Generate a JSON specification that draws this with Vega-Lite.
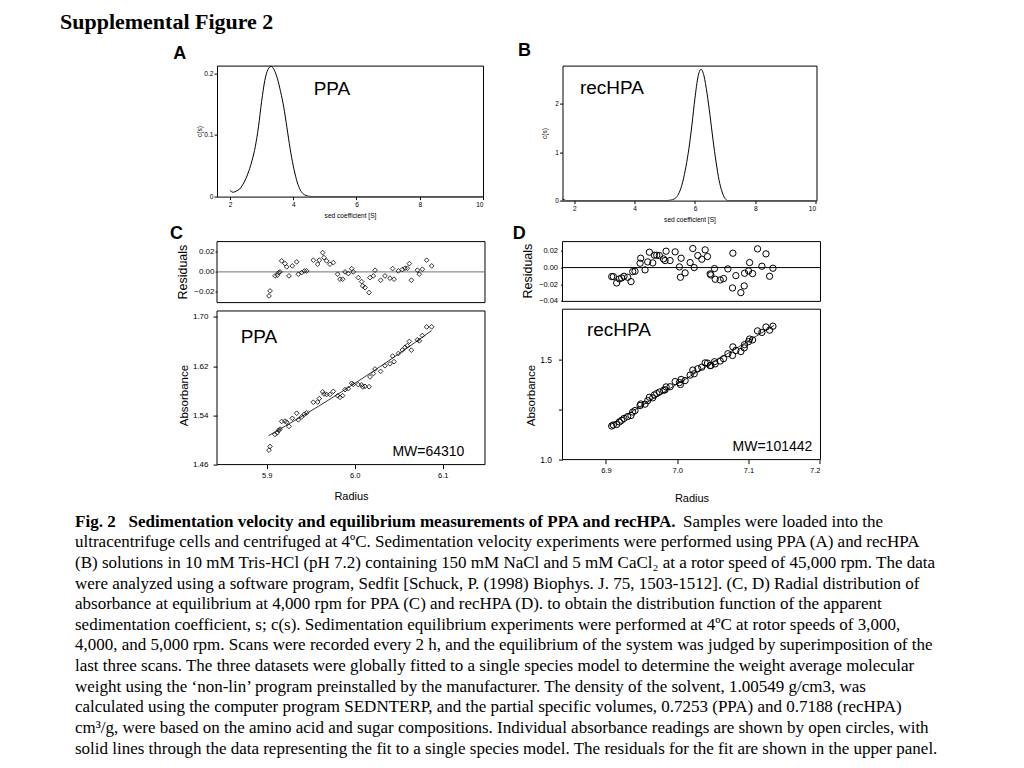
{
  "$schema": "https://vega.github.io/schema/vega-lite/v6.json",
  "background": "white",
  "padding": {"left": 60, "top": 10.6, "right": 5, "bottom": 5},
  "title": {"text": "Supplemental Figure 2", "anchor": "start", "frame": "group", "dx": -157, "offset": -9.5, "baseline": "alphabetic", "font": "Liberation Serif", "fontSize": 22, "fontWeight": "bold", "color": "black"},
  "config": {
    "view": {"stroke": null},
    "axis": {"grid": false, "domain": false, "tickColor": "black", "labelColor": "black", "titleColor": "black", "labelFont": "Liberation Sans", "titleFont": "Liberation Sans", "titleFontWeight": "normal", "tickWidth": 1}
  },
  "datasets": {
    "frame": [{"id": 1}],
    "ppa_cs": [{"s":2.0,"c":0.010},{"s":2.1,"c":0.007},{"s":2.2,"c":0.009},{"s":2.3,"c":0.012},{"s":2.4,"c":0.019},{"s":2.5,"c":0.029},{"s":2.6,"c":0.042},{"s":2.7,"c":0.059},{"s":2.8,"c":0.081},{"s":2.9,"c":0.113},{"s":3.0,"c":0.154},{"s":3.1,"c":0.188},{"s":3.2,"c":0.206},{"s":3.3,"c":0.211},{"s":3.4,"c":0.205},{"s":3.5,"c":0.191},{"s":3.6,"c":0.170},{"s":3.7,"c":0.145},{"s":3.8,"c":0.112},{"s":3.9,"c":0.078},{"s":4.0,"c":0.050},{"s":4.1,"c":0.028},{"s":4.2,"c":0.013},{"s":4.3,"c":0.005},{"s":4.4,"c":0.002},{"s":4.5,"c":0.0005},{"s":4.6,"c":0},{"s":5,"c":0},{"s":6,"c":0},{"s":7,"c":0},{"s":8,"c":0},{"s":9,"c":0},{"s":10,"c":0}],
    "rec_cs": [{"s":1.47,"c":0.13},{"s":1.55,"c":0.07},{"s":1.65,"c":0.02},{"s":1.75,"c":0},{"s":2,"c":0},{"s":3,"c":0},{"s":4,"c":0},{"s":5,"c":0},{"s":5.2,"c":0.01},{"s":5.3,"c":0.03},{"s":5.4,"c":0.08},{"s":5.5,"c":0.2},{"s":5.6,"c":0.4},{"s":5.7,"c":0.7},{"s":5.8,"c":1.08},{"s":5.9,"c":1.57},{"s":6.0,"c":2.12},{"s":6.1,"c":2.56},{"s":6.2,"c":2.72},{"s":6.3,"c":2.58},{"s":6.4,"c":2.22},{"s":6.5,"c":1.76},{"s":6.6,"c":1.25},{"s":6.7,"c":0.8},{"s":6.8,"c":0.42},{"s":6.9,"c":0.18},{"s":7.0,"c":0.04},{"s":7.1,"c":0},{"s":8,"c":0},{"s":9,"c":0},{"s":10,"c":0}],
    "annA": [{"s": 5.225, "c": 0.1742, "label": "PPA"}],
    "annB": [{"s": 3.249, "c": 2.329, "label": "recHPA"}],
    "cdata": [
      {"r":5.9026,"res":-0.024,"abs":1.4835},{"r":5.9038,"res":-0.019,"abs":1.4895},{"r":5.9094,"res":-0.004,"abs":1.509},{"r":5.9121,"res":-0.0033,"abs":1.5119},{"r":5.9136,"res":-0.0007,"abs":1.5157},{"r":5.9151,"res":0,"abs":1.5177},{"r":5.917,"res":0.011,"abs":1.5302},{"r":5.9208,"res":0.0083,"abs":1.5307},{"r":5.9227,"res":0.005,"abs":1.529},{"r":5.9253,"res":-0.004,"abs":1.5221},{"r":5.9291,"res":0.006,"abs":1.5353},{"r":5.9341,"res":0.010,"abs":1.5435},{"r":5.9359,"res":-0.0023,"abs":1.5328},{"r":5.9397,"res":-0.0007,"abs":1.5376},{"r":5.9428,"res":0.001,"abs":1.5419},{"r":5.9454,"res":0.001,"abs":1.5442},{"r":5.953,"res":0.0117,"abs":1.5614},{"r":5.9579,"res":0.0077,"abs":1.5617},{"r":5.9598,"res":0.0117,"abs":1.5674},{"r":5.9636,"res":0.0193,"abs":1.5783},{"r":5.9651,"res":0.0143,"abs":1.5747},{"r":5.9681,"res":0.011,"abs":1.574},{"r":5.9719,"res":0.0077,"abs":1.5741},{"r":5.9757,"res":0.0093,"abs":1.5791},{"r":5.9806,"res":-0.0023,"abs":1.5719},{"r":5.9833,"res":-0.0073,"abs":1.5694},{"r":5.9863,"res":-0.0073,"abs":1.5721},{"r":5.989,"res":0,"abs":1.5819},{"r":5.9928,"res":-0.0017,"abs":1.5836},{"r":5.9966,"res":0.0033,"abs":1.5922},{"r":5.9984,"res":0,"abs":1.5905},{"r":6.0041,"res":-0.0057,"abs":1.5901},{"r":6.0079,"res":-0.0097,"abs":1.5897},{"r":6.0091,"res":-0.014,"abs":1.5865},{"r":6.0117,"res":-0.0157,"abs":1.5872},{"r":6.0163,"res":-0.0207,"abs":1.5866},{"r":6.0174,"res":-0.0057,"abs":1.6026},{"r":6.0212,"res":-0.004,"abs":1.608},{"r":6.0231,"res":0.0017,"abs":1.6155},{"r":6.0295,"res":-0.0083,"abs":1.6116},{"r":6.0344,"res":-0.004,"abs":1.6207},{"r":6.0401,"res":-0.0063,"abs":1.6239},{"r":6.0431,"res":0.0033,"abs":1.6365},{"r":6.0447,"res":-0.0073,"abs":1.6274},{"r":6.0496,"res":0.001,"abs":1.6406},{"r":6.0541,"res":0.0023,"abs":1.6463},{"r":6.0572,"res":0.0037,"abs":1.6508},{"r":6.0598,"res":0.0037,"abs":1.6534},{"r":6.0621,"res":0.0083,"abs":1.6603},{"r":6.0644,"res":-0.0083,"abs":1.6461},{"r":6.0712,"res":0.0017,"abs":1.663},{"r":6.0734,"res":-0.0023,"abs":1.6612},{"r":6.0769,"res":0.0027,"abs":1.6698},{"r":6.0818,"res":0.0117,"abs":1.6838},{"r":6.0875,"res":0.006,"abs":1.684}
    ],
    "cfit": [{"r":5.902,"a":1.507},{"r":5.94,"a":1.5385},{"r":5.98,"a":1.5737},{"r":6.02,"a":1.6108},{"r":6.06,"a":1.6499},{"r":6.0875,"a":1.678}],
    "annC": [{"r": 5.8912, "a": 1.6673, "label": "PPA", "kind": "name"}, {"r": 6.0838, "a": 1.4803, "label": "MW=64310", "kind": "mw"}],
    "ddata": [
      {"r":6.908,"res":-0.0108,"abs":1.1673},{"r":6.9103,"res":-0.0108,"abs":1.1723},{"r":6.915,"res":-0.0184,"abs":1.1748},{"r":6.9187,"res":-0.0136,"abs":1.1875},{"r":6.922,"res":-0.0124,"abs":1.1958},{"r":6.9253,"res":-0.0104,"abs":1.205},{"r":6.9304,"res":-0.0116,"abs":1.2147},{"r":6.9351,"res":-0.0168,"abs":1.2197},{"r":6.9375,"res":-0.0048,"abs":1.2368},{"r":6.9407,"res":-0.0044,"abs":1.2441},{"r":6.9478,"res":0.0052,"abs":1.269},{"r":6.9487,"res":0.0112,"abs":1.2769},{"r":6.9548,"res":-0.0028,"abs":1.2761},{"r":6.9585,"res":0.0068,"abs":1.2936},{"r":6.9609,"res":0.0184,"abs":1.3104},{"r":6.9656,"res":0.0056,"abs":1.3077},{"r":6.9679,"res":0.0148,"abs":1.3219},{"r":6.9712,"res":0.0148,"abs":1.329},{"r":6.9749,"res":0.0144,"abs":1.3365},{"r":6.9806,"res":0.0104,"abs":1.3448},{"r":6.9829,"res":0.0084,"abs":1.3478},{"r":6.9843,"res":0.0196,"abs":1.362},{"r":6.9899,"res":0.0084,"abs":1.3628},{"r":6.997,"res":0.0188,"abs":1.3885},{"r":7.003,"res":0.0008,"abs":1.3834},{"r":7.0044,"res":-0.0116,"abs":1.3741},{"r":7.0054,"res":0.0112,"abs":1.399},{"r":7.011,"res":-0.0064,"abs":1.3935},{"r":7.018,"res":0.006,"abs":1.4209},{"r":7.0218,"res":0.0228,"abs":1.4459},{"r":7.0237,"res":0.0,"abs":1.4272},{"r":7.0288,"res":0.0144,"abs":1.4526},{"r":7.0344,"res":0.01,"abs":1.4602},{"r":7.0391,"res":0.0212,"abs":1.4816},{"r":7.0424,"res":0.0132,"abs":1.4807},{"r":7.0461,"res":-0.0076,"abs":1.4678},{"r":7.0471,"res":-0.0088,"abs":1.4688},{"r":7.0522,"res":-0.0012,"abs":1.4874},{"r":7.0532,"res":-0.014,"abs":1.4767},{"r":7.0602,"res":-0.0148,"abs":1.491},{"r":7.0649,"res":-0.0132,"abs":1.5027},{"r":7.071,"res":-0.0016,"abs":1.5274},{"r":7.0775,"res":-0.0244,"abs":1.5186},{"r":7.078,"res":0.0172,"abs":1.5613},{"r":7.0822,"res":-0.0096,"abs":1.5436},{"r":7.0892,"res":-0.03,"abs":1.5382},{"r":7.0939,"res":-0.022,"abs":1.5564},{"r":7.0944,"res":-0.0068,"abs":1.5726},{"r":7.1,"res":-0.004,"abs":1.5875},{"r":7.1014,"res":0.006,"abs":1.6005},{"r":7.1056,"res":-0.0072,"abs":1.5963},{"r":7.1126,"res":0.0224,"abs":1.641},{"r":7.1187,"res":0.0016,"abs":1.6333},{"r":7.1244,"res":0.0164,"abs":1.6604},{"r":7.1295,"res":-0.0104,"abs":1.6446},{"r":7.1342,"res":-0.0008,"abs":1.6643}
    ],
    "dfit": [{"r":6.9047,"a":1.171},{"r":7.136,"a":1.669}],
    "annD": [{"r": 6.9182, "a": 1.645, "label": "recHPA", "kind": "name"}, {"r": 7.1335, "a": 1.0623, "label": "MW=101442", "kind": "mw"}],
    "caption": [
      {"line":1,"part":"b","text":"Fig. 2\u00a0\u00a0 Sedimentation velocity and equilibrium measurements of PPA and recHPA."},
      {"line":1,"part":"t","text":"Samples were loaded into the"},
      {"line":2,"part":"n","text":"ultracentrifuge cells and centrifuged at 4ºC. Sedimentation velocity experiments were performed using PPA (A) and recHPA"},
      {"line":3,"part":"n","text":"(B) solutions in 10 mM Tris-HCl (pH 7.2) containing 150 mM NaCl and 5 mM CaCl₂ at a rotor speed of 45,000 rpm. The data"},
      {"line":4,"part":"n","text":"were analyzed using a software program, Sedfit [Schuck, P. (1998) Biophys. J. 75, 1503-1512]. (C, D) Radial distribution of"},
      {"line":5,"part":"n","text":"absorbance at equilibrium at 4,000 rpm for PPA (C) and recHPA (D). to obtain the distribution function of the apparent"},
      {"line":6,"part":"n","text":"sedimentation coefficient, s; c(s). Sedimentation equilibrium experiments were performed at 4ºC at rotor speeds of 3,000,"},
      {"line":7,"part":"n","text":"4,000, and 5,000 rpm. Scans were recorded every 2 h, and the equilibrium of the system was judged by superimposition of the"},
      {"line":8,"part":"n","text":"last three scans. The three datasets were globally fitted to a single species model to determine the weight average molecular"},
      {"line":9,"part":"n","text":"weight using the ‘non-lin’ program preinstalled by the manufacturer. The density of the solvent, 1.00549 g/cm3, was"},
      {"line":10,"part":"n","text":"calculated using the computer program SEDNTERP, and the partial specific volumes, 0.7253 (PPA) and 0.7188 (recHPA)"},
      {"line":11,"part":"n","text":"cm³/g, were based on the amino acid and sugar compositions. Individual absorbance readings are shown by open circles, with"},
      {"line":12,"part":"n","text":"solid lines through the data representing the fit to a single species model. The residuals for the fit are shown in the upper panel."}
    ]
  },
  "columns": 2,
  "bounds": "flush",
  "align": "each",
  "spacing": {"row": 41, "column": 77.5},
  "concat": [
    {
      "width": 266, "height": 131,
      "view": {"stroke": "black", "strokeWidth": 1},
      "title": {"text": "A", "anchor": "start", "frame": "group", "offset": 0, "dx": -43.7, "dy": 11.8, "baseline": "alphabetic", "font": "Liberation Sans", "fontSize": 18, "fontWeight": "bold", "color": "black"},
      "layer": [
        {"data": {"name": "ppa_cs"}, "mark": {"type": "line", "color": "black", "strokeWidth": 1, "interpolate": "monotone", "clip": true},
         "encoding": {
           "x": {"field": "s", "type": "quantitative", "scale": {"domain": [1.589, 10], "nice": false, "zero": false}, "axis": {"values": [2,3,4,5,6,7,8,9,10], "format": "d", "labelFontSize": 6.6, "tickSize": 3, "labelPadding": 2, "title": "sed coefficient [S]", "titleFontSize": 6.6, "titlePadding": 4}},
           "y": {"field": "c", "type": "quantitative", "scale": {"domain": [0, 0.2123], "nice": false}, "axis": {"values": [0, 0.1, 0.2], "format": "~g", "labelFontSize": 6.6, "tickSize": 3, "labelPadding": 1, "title": "c(s)", "titleFontSize": 6.6, "titlePadding": 1}}
         }},
        {"data": {"name": "annA"}, "mark": {"type": "text", "font": "Liberation Sans", "fontSize": 19, "color": "black", "align": "center", "baseline": "middle"},
         "encoding": {"x": {"field": "s", "type": "quantitative"}, "y": {"field": "c", "type": "quantitative"}, "text": {"field": "label"}}}
      ]
    },
    {
      "width": 254, "height": 135,
      "view": {"stroke": "black", "strokeWidth": 1},
      "title": {"text": "B", "anchor": "start", "frame": "group", "offset": 0, "dx": -44.5, "dy": 8.5, "baseline": "alphabetic", "font": "Liberation Sans", "fontSize": 18, "fontWeight": "bold", "color": "black"},
      "layer": [
        {"data": {"name": "rec_cs"}, "mark": {"type": "line", "color": "black", "strokeWidth": 1, "interpolate": "monotone", "clip": true},
         "encoding": {
           "x": {"field": "s", "type": "quantitative", "scale": {"domain": [1.608, 10.03], "nice": false, "zero": false}, "axis": {"values": [2,3,4,5,6,7,8,9,10], "format": "d", "labelFontSize": 6.6, "tickSize": 3, "labelPadding": 2, "title": "sed coefficient [S]", "titleFontSize": 6.6, "titlePadding": 4.5}},
           "y": {"field": "c", "type": "quantitative", "scale": {"domain": [0, 2.795], "nice": false}, "axis": {"values": [0, 1, 2], "format": "d", "labelFontSize": 6.6, "tickSize": 3, "labelPadding": 1, "title": "c(s)", "titleFontSize": 6.6, "titlePadding": 7}}
         }},
        {"data": {"name": "annB"}, "mark": {"type": "text", "font": "Liberation Sans", "fontSize": 19, "color": "black", "align": "center", "baseline": "middle"},
         "encoding": {"x": {"field": "s", "type": "quantitative"}, "y": {"field": "c", "type": "quantitative"}, "text": {"field": "label"}}}
      ]
    },
    {
      "width": 268, "height": 223,
      "title": {"text": "C", "anchor": "start", "frame": "group", "offset": 0, "dx": -47, "dy": 15.8, "baseline": "alphabetic", "font": "Liberation Sans", "fontSize": 18, "fontWeight": "bold", "color": "black"},
      "resolve": {"scale": {"y": "independent"}, "axis": {"y": "independent"}},
      "layer": [
        {"layer": [
          {"data": {"name": "frame"}, "mark": {"type": "rect", "filled": false, "color": "black", "strokeWidth": 1},
           "encoding": {
             "x": {"datum": 5.8435, "type": "quantitative", "scale": {"domain": [5.8435, 6.1481], "nice": false, "zero": false}, "axis": {"values": [5.9, 6.0, 6.1], "format": ".1f", "labelFontSize": 7.5, "tickSize": 4, "labelPadding": 3, "title": "Radius", "titleFontSize": 11, "titlePadding": 11}},
             "x2": {"datum": 6.1481},
             "y": {"datum": 0.0303, "type": "quantitative", "scale": {"domain": [-0.1927, 0.0303], "nice": false, "zero": false}, "axis": {"orient": "left", "values": [-0.02, 0, 0.02], "format": ".2f", "labelFontSize": 8, "tickSize": 2, "labelPadding": 1, "title": "Residuals", "titleFontSize": 12.5, "titleY": 30, "titlePadding": 4}},
             "y2": {"datum": -0.0307}
           }},
          {"data": {"name": "frame"}, "mark": {"type": "rule", "color": "#6e6e6e", "strokeWidth": 1},
           "encoding": {"y": {"datum": 0, "type": "quantitative"}}},
          {"data": {"name": "cdata"}, "mark": {"type": "point", "shape": "diamond", "filled": false, "color": "black", "strokeWidth": 0.8, "size": 22, "opacity": 1},
           "encoding": {
             "x": {"field": "r", "type": "quantitative"},
             "y": {"field": "res", "type": "quantitative"}
           }}
        ]},
        {"layer": [
          {"data": {"name": "frame"}, "mark": {"type": "rect", "filled": false, "color": "black", "strokeWidth": 1},
           "encoding": {
             "x": {"datum": 5.8435, "type": "quantitative"},
             "x2": {"datum": 6.1481},
             "y": {"datum": 1.7098, "type": "quantitative", "scale": {"domain": [1.46, 1.8226], "nice": false, "zero": false}, "axis": {"orient": "left", "values": [1.46, 1.50, 1.54, 1.58, 1.62, 1.66, 1.70], "format": ".2f", "labelFontSize": 8, "tickSize": 4, "labelPadding": 5, "title": "Absorbance", "titleFontSize": 11.5, "titleY": 153.5, "titlePadding": 3}},
             "y2": {"datum": 1.46}
           }},
          {"data": {"name": "cfit"}, "mark": {"type": "line", "color": "black", "strokeWidth": 0.8, "interpolate": "monotone"},
           "encoding": {"x": {"field": "r", "type": "quantitative"}, "y": {"field": "a", "type": "quantitative"}}},
          {"data": {"name": "cdata"}, "mark": {"type": "point", "shape": "diamond", "filled": false, "color": "black", "strokeWidth": 0.8, "size": 22, "opacity": 1},
           "encoding": {"x": {"field": "r", "type": "quantitative"}, "y": {"field": "abs", "type": "quantitative"}}},
          {"data": {"name": "annC"}, "transform": [{"filter": "datum.kind == 'name'"}], "mark": {"type": "text", "font": "Liberation Sans", "fontSize": 19, "color": "black", "align": "center", "baseline": "middle"},
           "encoding": {"x": {"field": "r", "type": "quantitative"}, "y": {"field": "a", "type": "quantitative"}, "text": {"field": "label"}}},
          {"data": {"name": "annC"}, "transform": [{"filter": "datum.kind == 'mw'"}], "mark": {"type": "text", "font": "Liberation Sans", "fontSize": 14, "color": "black", "align": "center", "baseline": "middle"},
           "encoding": {"x": {"field": "r", "type": "quantitative"}, "y": {"field": "a", "type": "quantitative"}, "text": {"field": "label"}}}
        ]}
      ]
    },
    {
      "width": 258, "height": 218,
      "title": {"text": "D", "anchor": "start", "frame": "group", "offset": 0, "dx": -49.8, "dy": 15.8, "baseline": "alphabetic", "font": "Liberation Sans", "fontSize": 18, "fontWeight": "bold", "color": "black"},
      "resolve": {"scale": {"y": "independent"}, "axis": {"y": "independent"}},
      "layer": [
        {"layer": [
          {"data": {"name": "frame"}, "mark": {"type": "rect", "filled": false, "color": "black", "strokeWidth": 1},
           "encoding": {
             "x": {"datum": 6.839, "type": "quantitative", "scale": {"domain": [6.839, 7.2009], "nice": false, "zero": false}, "axis": {"values": [6.9, 7.0, 7.1, 7.2], "format": ".1f", "labelFontSize": 7.5, "tickSize": 4, "labelPadding": 3, "title": "Radius", "titleFontSize": 11, "titlePadding": 18}},
             "x2": {"datum": 7.2009},
             "y": {"datum": 0.0311, "type": "quantitative", "scale": {"domain": [-0.2299, 0.0311], "nice": false, "zero": false}, "axis": {"orient": "left", "values": [-0.04, -0.02, 0, 0.02], "format": ".2f", "labelFontSize": 7.5, "tickSize": 2, "labelPadding": 3, "title": "Residuals", "titleFontSize": 12.5, "titleY": 29, "titlePadding": 4}},
             "y2": {"datum": -0.0405}
           }},
          {"data": {"name": "frame"}, "mark": {"type": "rule", "color": "black", "strokeWidth": 1},
           "encoding": {"y": {"datum": 0, "type": "quantitative"}}},
          {"data": {"name": "ddata"}, "mark": {"type": "point", "shape": "circle", "filled": false, "color": "black", "strokeWidth": 1, "size": 40, "opacity": 1},
           "encoding": {"x": {"field": "r", "type": "quantitative"}, "y": {"field": "res", "type": "quantitative"}}}
        ]},
        {"layer": [
          {"data": {"name": "frame"}, "mark": {"type": "rect", "filled": false, "color": "black", "strokeWidth": 1},
           "encoding": {
             "x": {"datum": 6.839, "type": "quantitative"},
             "x2": {"datum": 7.2009},
             "y": {"datum": 1.749, "type": "quantitative", "scale": {"domain": [1.0, 2.0857], "nice": false, "zero": false}, "axis": {"orient": "left", "values": [1.0, 1.25, 1.5], "labelExpr": "datum.value == 1.25 ? '' : format(datum.value, '.1f')", "labelFontSize": 8.5, "tickSize": 4, "labelPadding": 7, "title": "Absorbance", "titleFontSize": 11.5, "titleY": 153.5, "titlePadding": 3}},
             "y2": {"datum": 1.0}
           }},
          {"data": {"name": "dfit"}, "mark": {"type": "line", "color": "black", "strokeWidth": 0.8},
           "encoding": {"x": {"field": "r", "type": "quantitative"}, "y": {"field": "a", "type": "quantitative"}}},
          {"data": {"name": "ddata"}, "mark": {"type": "point", "shape": "circle", "filled": false, "color": "black", "strokeWidth": 1, "size": 40, "opacity": 1},
           "encoding": {"x": {"field": "r", "type": "quantitative"}, "y": {"field": "abs", "type": "quantitative"}}},
          {"data": {"name": "annD"}, "transform": [{"filter": "datum.kind == 'name'"}], "mark": {"type": "text", "font": "Liberation Sans", "fontSize": 19, "color": "black", "align": "center", "baseline": "middle"},
           "encoding": {"x": {"field": "r", "type": "quantitative"}, "y": {"field": "a", "type": "quantitative"}, "text": {"field": "label"}}},
          {"data": {"name": "annD"}, "transform": [{"filter": "datum.kind == 'mw'"}], "mark": {"type": "text", "font": "Liberation Sans", "fontSize": 14, "color": "black", "align": "center", "baseline": "middle"},
           "encoding": {"x": {"field": "r", "type": "quantitative"}, "y": {"field": "a", "type": "quantitative"}, "text": {"field": "label"}}}
        ]}
      ]
    },
    {
      "width": 100, "height": 227,
      "data": {"name": "caption"},
      "encoding": {
        "x": {"datum": 0, "type": "quantitative", "scale": {"domain": [0, 1]}, "axis": null},
        "y": {"field": "line", "type": "quantitative", "scale": {"domain": [1, 12], "reverse": true, "nice": false, "zero": false}, "axis": null},
        "text": {"field": "text"}
      },
      "layer": [
        {"transform": [{"filter": "datum.part == 'b'"}], "mark": {"type": "text", "align": "left", "baseline": "middle", "font": "Liberation Serif", "fontSize": 17.05, "fontWeight": "bold", "color": "black", "dx": -142, "dy": 16}},
        {"transform": [{"filter": "datum.part == 'n'"}], "mark": {"type": "text", "align": "left", "baseline": "middle", "font": "Liberation Serif", "fontSize": 17, "fontWeight": "normal", "color": "black", "dx": -142, "dy": 16}},
        {"transform": [{"filter": "datum.part == 't'"}], "mark": {"type": "text", "align": "left", "baseline": "middle", "font": "Liberation Serif", "fontSize": 17, "fontWeight": "normal", "color": "black", "dx": 466, "dy": 16}}
      ]
    }
  ]
}
